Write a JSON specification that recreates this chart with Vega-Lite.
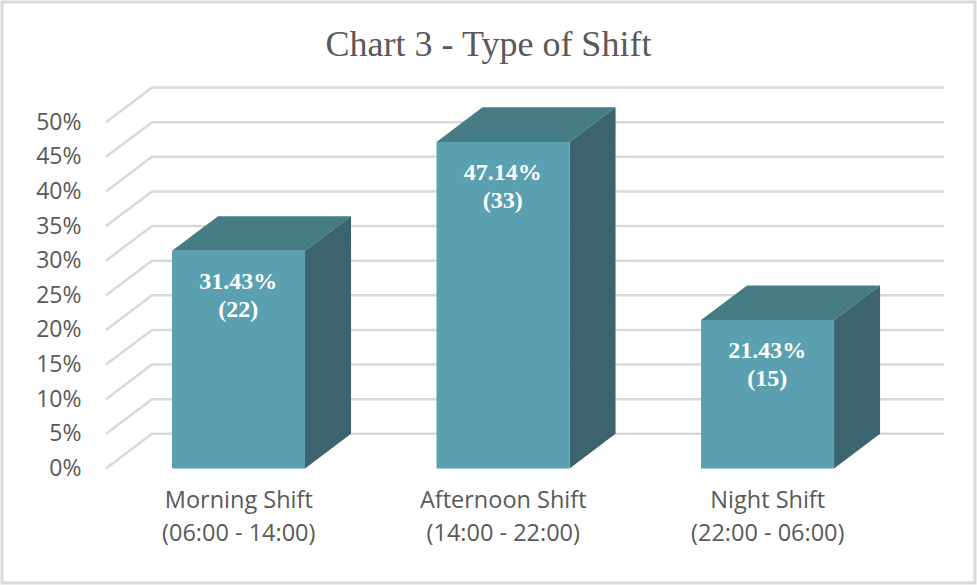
{
  "$schema": "https://vega.github.io/schema/vega-lite/v6.json",
  "width": 973,
  "height": 581,
  "padding": 2,
  "autosize": "none",
  "background": "white",
  "config": {"view": {"stroke": "#d9d9d9", "strokeWidth": 3}},
  "title": {
    "text": "Chart 3 - Type of Shift",
    "font": "Liberation Serif",
    "fontSize": 36,
    "fontWeight": "normal",
    "color": "#595959",
    "anchor": "middle",
    "frame": "group",
    "baseline": "alphabetic",
    "offset": -90
  },
  "datasets": {
    "bars": [
      {"shift": "Morning Shift|(06:00 - 14:00)", "pct": 31.43, "n": 22},
      {"shift": "Afternoon Shift|(14:00 - 22:00)", "pct": 47.14, "n": 33},
      {"shift": "Night Shift|(22:00 - 06:00)", "pct": 21.43, "n": 15}
    ],
    "ticks": [
      {"tick": 0}, {"tick": 5}, {"tick": 10}, {"tick": 15}, {"tick": 20}, {"tick": 25},
      {"tick": 30}, {"tick": 35}, {"tick": 40}, {"tick": 45}, {"tick": 50}
    ]
  },
  "resolve": {"scale": {"x": "independent"}, "axis": {"x": "independent"}},
  "layer": [
    {
      "data": {"name": "ticks"},
      "transform": [
        {"calculate": "[0, 1, 2]", "as": "c"},
        {"flatten": ["c"]},
        {"calculate": "[0, 0.1739, 3.168][datum.c]", "as": "gx"},
        {"calculate": "datum.tick + [0, 5, 5][datum.c]", "as": "gy"}
      ],
      "mark": {"type": "line", "color": "#d9d9d9", "strokeWidth": 2.5},
      "encoding": {
        "x": {"field": "gx", "type": "quantitative", "axis": null,
          "scale": {"domain": [0, 3.168], "range": [104, 942]}},
        "y": {"field": "gy", "type": "quantitative",
          "scale": {"domain": [0, 55], "range": [466.5, 85.5]},
          "axis": {
            "title": null,
            "values": [0, 5, 10, 15, 20, 25, 30, 35, 40, 45, 50],
            "labelExpr": "datum.value + '%'",
            "domain": false,
            "ticks": false,
            "grid": false,
            "offset": -79,
            "labelPadding": 0,
            "labelFont": "Open Sans",
            "labelFontSize": 23,
            "labelColor": "#595959"
          }},
        "detail": {"field": "tick"}
      }
    },
    {
      "data": {"name": "bars"},
      "transform": [
        {"window": [{"op": "row_number", "as": "i"}]},
        {"calculate": "[0, 1, 2, 3]", "as": "c"},
        {"flatten": ["c"]},
        {"calculate": "datum.i - 1 + [0.2495, 0.4234, 0.7524, 0.9263][datum.c]", "as": "tx"},
        {"calculate": "datum.pct + [0, 5, 5, 5][datum.c]", "as": "ty"},
        {"calculate": "datum.pct + [0, 0, 0, 5][datum.c]", "as": "ty2"}
      ],
      "mark": {"type": "area", "color": "#467c84"},
      "encoding": {
        "x": {"field": "tx", "type": "quantitative", "axis": null,
          "scale": {"domain": [0, 3.168], "range": [104, 942]}},
        "y": {"field": "ty", "type": "quantitative", "stack": null},
        "y2": {"field": "ty2"},
        "detail": {"field": "shift"}
      }
    },
    {
      "data": {"name": "bars"},
      "transform": [
        {"window": [{"op": "row_number", "as": "i"}]},
        {"calculate": "[0, 1]", "as": "c"},
        {"flatten": ["c"]},
        {"calculate": "datum.i - 1 + [0.7524, 0.9263][datum.c]", "as": "sx"},
        {"calculate": "datum.pct + [0, 5][datum.c]", "as": "sy"},
        {"calculate": "[0, 5][datum.c]", "as": "sy2"}
      ],
      "mark": {"type": "area", "color": "#3c646e"},
      "encoding": {
        "x": {"field": "sx", "type": "quantitative", "axis": null,
          "scale": {"domain": [0, 3.168], "range": [104, 942]}},
        "y": {"field": "sy", "type": "quantitative", "stack": null},
        "y2": {"field": "sy2"},
        "detail": {"field": "shift"}
      }
    },
    {
      "data": {"name": "bars"},
      "transform": [
        {"window": [{"op": "row_number", "as": "i"}]},
        {"calculate": "datum.i - 1 + 0.2495", "as": "fx"},
        {"calculate": "datum.i - 1 + 0.7524", "as": "fx2"}
      ],
      "mark": {"type": "rect", "color": "#5aa0b0"},
      "encoding": {
        "x": {"field": "fx", "type": "quantitative", "axis": null,
          "scale": {"domain": [0, 3.168], "range": [104, 942]}},
        "x2": {"field": "fx2"},
        "y": {"field": "pct", "type": "quantitative"},
        "y2": {"datum": 0}
      }
    },
    {
      "data": {"name": "bars"},
      "transform": [
        {"calculate": "[format(datum.pct, '.2f') + '%', '(' + datum.n + ')']", "as": "lbl"}
      ],
      "mark": {
        "type": "text",
        "font": "Liberation Serif",
        "fontSize": 24,
        "fontWeight": "bold",
        "color": "white",
        "baseline": "top",
        "lineHeight": 28,
        "dy": 19
      },
      "encoding": {
        "x": {"field": "shift", "type": "nominal", "sort": null,
          "scale": {"range": [104, 897.5], "paddingInner": 0.5, "paddingOuter": 0.25},
          "axis": {
            "title": null,
            "domain": false,
            "ticks": false,
            "grid": false,
            "labelAngle": 0,
            "labelExpr": "split(datum.label, '|')",
            "offset": -114.5,
            "labelPadding": 20,
            "labelFont": "Open Sans",
            "labelFontSize": 23.5,
            "labelLineHeight": 33,
            "labelColor": "#595959",
            "labelLimit": 300
          }},
        "y": {"field": "pct", "type": "quantitative"},
        "text": {"field": "lbl"}
      }
    }
  ]
}
